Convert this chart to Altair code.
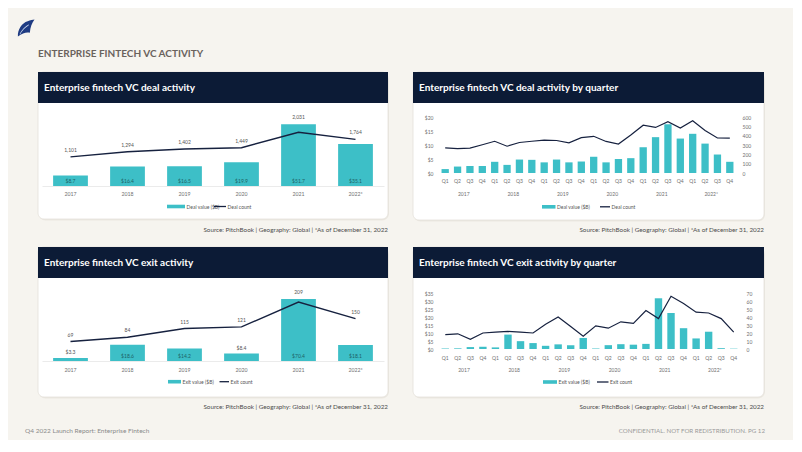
import altair as alt
import pandas as pd

FONT = "Lato"
TEAL = "#3dbfc7"
LINE = "#16213f"
HEADER = "#0c1b36"
PAGE_BG = "#f6f4ef"
CARD_STROKE = "#e4e1da"
AXIS_GRAY = "#6f6f6f"

# ---------------- data ----------------
YEARS = ["2017", "2018", "2019", "2020", "2021", "2022*"]
QYEARS = ["2017", "2018", "2019", "2020", "2021", "2022"]
QUARTERS = ["Q1", "Q2", "Q3", "Q4"]

DEAL_VALUE = [8.7, 16.4, 16.5, 19.9, 51.7, 35.1]
DEAL_COUNT = [1101, 1294, 1402, 1449, 2031, 1764]
EXIT_VALUE = [3.3, 18.6, 14.2, 8.4, 70.4, 18.1]
EXIT_COUNT = [69, 84, 115, 121, 209, 150]

Q_DEAL_VALUE = [1.4, 2.3, 2.5, 2.5, 4.0, 2.9, 4.8, 4.7, 3.8, 4.8, 3.8, 4.1,
                5.8, 3.8, 5.0, 5.3, 9.2, 12.8, 17.4, 12.3, 14.0, 10.5, 6.6, 4.0]
Q_DEAL_COUNT = [270, 262, 266, 303, 340, 287, 327, 340, 352, 348, 323, 379,
                393, 338, 310, 408, 512, 488, 550, 481, 560, 455, 375, 374]
Q_EXIT_VALUE = [0.3, 0.4, 1.2, 1.4, 1.0, 9.0, 4.9, 3.7, 2.0, 2.9, 2.4, 6.9,
                0.3, 2.4, 3.0, 2.7, 3.2, 31.7, 22.5, 13.0, 6.6, 10.8, 0.5, 0.2]
Q_EXIT_COUNT = [18, 19, 12, 20, 21, 22, 21, 20, 31, 40, 28, 16,
                29, 26, 34, 32, 48, 38, 66, 57, 46, 45, 38, 21]

PAGE_TITLE = "ENTERPRISE FINTECH VC ACTIVITY"
TITLES = ["Enterprise fintech VC deal activity",
          "Enterprise fintech VC deal activity by quarter",
          "Enterprise fintech VC exit activity",
          "Enterprise fintech VC exit activity by quarter"]
SOURCE = "Source: PitchBook | Geography: Global | *As of December 31, 2022"
FOOT_LEFT = "Q4 2022 Launch Report: Enterprise Fintech"
FOOT_RIGHT = "CONFIDENTIAL. NOT FOR REDISTRIBUTION.  PG 12"

ONE = pd.DataFrame({"k": [0]})

# panel plot origins in page coordinates
OA, OB, OC, OD = (42, 117), (439, 117), (42, 293), (439, 293)


def d_rect(o, x1, y1, x2, y2, fill, radius=0, stroke=None):
    props = dict(fill=fill, cornerRadius=radius)
    if stroke:
        props.update(stroke=stroke, strokeWidth=0.8)
    return alt.Chart(ONE).mark_rect(**props).encode(
        x=alt.value(x1 - o[0]), x2=alt.value(x2 - o[0]),
        y=alt.value(y1 - o[1]), y2=alt.value(y2 - o[1]))


def d_text(o, x, y, s, size, color, align="left", weight="normal"):
    return alt.Chart(ONE).mark_text(
        align=align, baseline="middle", fontSize=size, fill=color,
        font=FONT, fontWeight=weight).encode(
        x=alt.value(x - o[0]), y=alt.value(y - o[1]), text=alt.value(s))


def d_rule(o, x1, x2, y, color, w):
    return alt.Chart(ONE).mark_rule(stroke=color, strokeWidth=w).encode(
        x=alt.value(x1 - o[0]), x2=alt.value(x2 - o[0]), y=alt.value(y - o[1]))


def card(o, x1, x2, ytop, ybot, title, src_y):
    return [
        d_rect(o, x1 + 0.5, ytop + 2, x2 + 1, ybot + 1.5, "#ebe8e1", radius=7),
        d_rect(o, x1, ytop, x2, ybot, "white", radius=6, stroke=CARD_STROKE),
        d_rect(o, x1, ytop, x2, ytop + 31, HEADER),
        d_text(o, x1 + 6, ytop + 15.5, title, 10, "white", weight="bold"),
        d_text(o, x2, src_y, SOURCE, 6.3, "#4d4d4d", align="right"),
    ]


def legend(o, rx1, rx2, y, t1, lx1, lx2, t2):
    return [
        d_rect(o, rx1, y - 1.8, rx2, y + 1.8, TEAL),
        d_text(o, rx2 + 1.5, y, t1, 5, "#555555"),
        d_rule(o, lx1, lx2, y, LINE, 1.3),
        d_text(o, lx2 + 1.5, y, t2, 5, "#555555"),
    ]


LOGO = ("M -0.95 1 C -1 0.2 -0.5 -0.6 0.2 -0.8 C 0.5 -0.9 0.8 -1 1 -1 "
        "C 0.7 -0.6 0.5 -0.1 0.45 0.55 C 0.1 0.45 -0.4 0.55 -0.95 1 Z")
LOGO_STRIPE = ("M -0.75 0.7 C -0.5 0.2 -0.1 -0.2 0.35 -0.45 L 0.3 -0.3 "
               "C -0.1 -0.05 -0.45 0.3 -0.7 0.75 Z")


def annual(o, W, H, vals, cnts, vmax, cmax, thresh, lpad, extra):
    df = pd.DataFrame({"year": YEARS, "val": vals, "cnt": cnts})
    base = alt.Chart(df)
    x = alt.X("year:N", sort=YEARS, title=None,
              scale=alt.Scale(paddingInner=0.39, paddingOuter=0.195),
              axis=alt.Axis(labelAngle=0, ticks=False, domain=True, domainColor="#e6e6e6",
                            domainWidth=0.8, labelPadding=lpad, labelFontSize=5.2,
                            labelColor=AXIS_GRAY, labelFont=FONT, grid=False, zindex=1))
    yv = alt.Scale(domain=[0, vmax], nice=False, zero=True)
    bars = base.mark_bar(fill=TEAL).encode(x=x, y=alt.Y("val:Q", scale=yv, axis=None))
    line = base.mark_line(stroke=LINE, strokeWidth=1.4).encode(
        x=x, y=alt.Y("cnt:Q", scale=alt.Scale(domain=[0, cmax], nice=False), axis=None))
    lab_in = base.transform_filter(f"datum.val >= {thresh}").transform_calculate(b0="0").mark_text(
        dy=-5.5, fontSize=5, fill="#1e5f66", font=FONT).encode(
        x=x, y=alt.Y("b0:Q", scale=yv, axis=None), text=alt.Text("val:Q", format="$.1f"))
    lab_out = base.transform_filter(f"datum.val < {thresh}").mark_text(
        dy=-6, fontSize=5, fill="#555555", font=FONT).encode(
        x=x, y=alt.Y("val:Q", scale=yv, axis=None), text=alt.Text("val:Q", format="$.1f"))
    lab_cnt = base.transform_calculate(f=f"max(datum.val/{vmax}, datum.cnt/{cmax})").mark_text(
        dy=-7, fontSize=5, fill="#555555", font=FONT).encode(
        x=x, y=alt.Y("f:Q", scale=alt.Scale(domain=[0, 1], nice=False), axis=None),
        text=alt.Text("cnt:Q", format=",d"))
    return alt.layer(*extra, bars, line, lab_in, lab_out, lab_cnt).resolve_scale(
        y="independent").properties(width=W, height=H)


def quarterly(o, W, H, vals, cnts, vmax, vstep, cmax, cstep, lpad, year_y, extra):
    keys = [f"{y}-{q}" for y in QYEARS for q in QUARTERS]
    df = pd.DataFrame({"key": keys, "val": vals, "cnt": cnts})
    base = alt.Chart(df)
    x = alt.X("key:N", title=None,
              scale=alt.Scale(paddingInner=0.41, paddingOuter=0.205),
              axis=alt.Axis(labelExpr="split(datum.label, '-')[1]", labelAngle=0, ticks=False,
                            domain=False, labelPadding=lpad, labelFontSize=5,
                            labelColor=AXIS_GRAY, labelFont=FONT, grid=False, zindex=1))
    yax = dict(ticks=False, domain=False, grid=False, labelPadding=6, labelFontSize=5,
               labelColor=AXIS_GRAY, labelFont=FONT, zindex=1)
    bars = base.mark_bar(fill=TEAL).encode(
        x=x, y=alt.Y("val:Q", title=None, scale=alt.Scale(domain=[0, vmax], nice=False),
                     axis=alt.Axis(orient="left", values=list(range(0, vmax + 1, vstep)),
                                   format="$.0f", **yax)))
    line = base.mark_line(stroke=LINE, strokeWidth=1.2).encode(
        x=x, y=alt.Y("cnt:Q", title=None, scale=alt.Scale(domain=[0, cmax], nice=False),
                     axis=alt.Axis(orient="right", values=list(range(0, cmax + 1, cstep)),
                                   format="d", **yax)))
    ydf = pd.DataFrame({"key": [f"{y}-Q2" for y in QYEARS], "label": YEARS})
    ylab = alt.Chart(ydf).mark_text(dx=6.2, fontSize=5, fill=AXIS_GRAY, font=FONT).encode(
        x=x, y=alt.value(year_y), text="label:N")
    return alt.layer(*extra, bars, line, ylab).resolve_scale(
        y="independent").properties(width=W, height=H)


# ---------------- panels ----------------
extra_a = [
    d_rect(OA, 8, 8, 793, 440, PAGE_BG),
    alt.Chart(ONE).mark_point(shape=LOGO, filled=True, fill="#1f3b82", size=290, opacity=1).encode(
        x=alt.value(26 - OA[0]), y=alt.value(28 - OA[1])),
    alt.Chart(ONE).mark_point(shape=LOGO_STRIPE, filled=True, fill="#c9d6ee", size=290, opacity=1).encode(
        x=alt.value(26 - OA[0]), y=alt.value(28 - OA[1])),
    d_text(OA, 38, 54, PAGE_TITLE, 10, "#6a625d", weight="bold"),
    d_text(OA, 25, 431, FOOT_LEFT, 6.5, "#8a8a8a"),
    d_text(OA, 765, 431, FOOT_RIGHT, 6.2, "#9a9a9a", align="right"),
] + card(OA, 38, 388, 72, 219, TITLES[0], 230) + legend(
    OA, 167, 185, 206.5, "Deal value ($B)", 214, 226, "Deal count")

extra_b = card(OB, 413, 764, 72, 220, TITLES[1], 230) + legend(
    OB, 542, 555.5, 206.8, "Deal value ($B)", 600, 610, "Deal count")

extra_c = card(OC, 38, 388, 247, 397, TITLES[2], 407) + legend(
    OC, 168, 181, 381.7, "Exit value ($B)", 219.5, 229, "Exit count")

extra_d = card(OD, 413, 764, 247, 397, TITLES[3], 407) + legend(
    OD, 543, 557, 382, "Exit value ($B)", 597, 608.5, "Exit count")

A = annual(OA, 342, 69, DEAL_VALUE, DEAL_COUNT, 57.8, 2610, 7.5, 5, extra_a)
B = quarterly(OB, 297, 56, Q_DEAL_VALUE, Q_DEAL_COUNT, 20, 5, 600, 100, 5, 77.3, extra_b)
C = annual(OC, 342, 68, EXIT_VALUE, EXIT_COUNT, 77.3, 241, 10.2, 6, extra_c)
D = quarterly(OD, 301, 56, Q_EXIT_VALUE, Q_EXIT_COUNT, 35, 5, 70, 10, 6.5, 77, extra_d)

chart = alt.concat(
    A, B, C, D, columns=2, bounds="flush", align="all",
    spacing={"row": 107, "column": 55},
).properties(padding=0, background=PAGE_BG).configure_view(strokeWidth=0)

chart.save("out.html", embed_options={"renderer": "svg", "actions": False})
